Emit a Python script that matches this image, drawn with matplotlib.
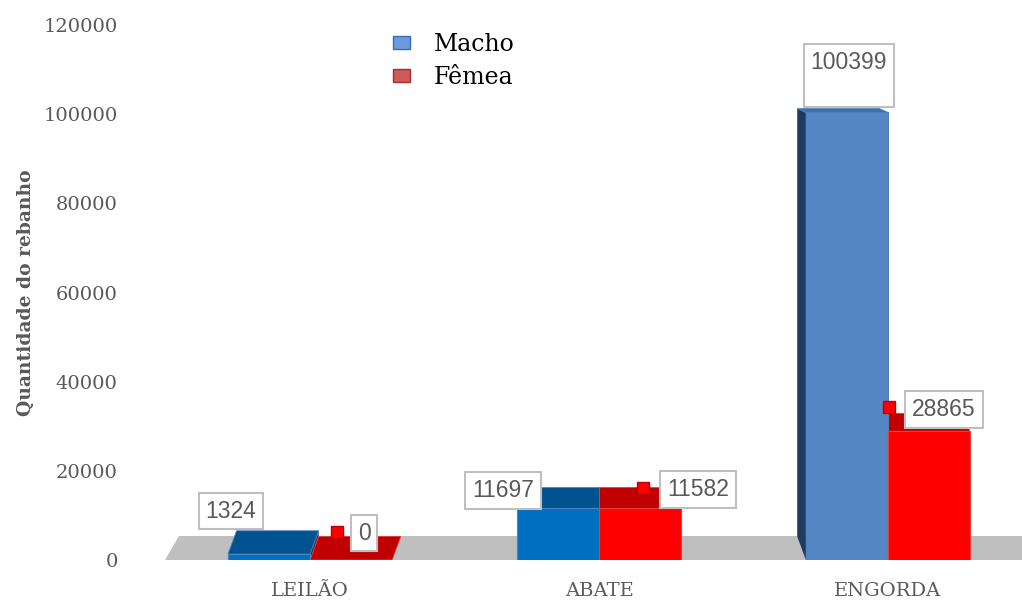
import matplotlib.pyplot as plt
from matplotlib.patches import Polygon, Patch
from matplotlib.transforms import offset_copy

# dados
categorias = ["LEILÃO", "ABATE", "ENGORDA"]
macho = [1324, 11697, 100399]
femea = [0, 11582, 28865]
yticks = [0, 20000, 40000, 60000, 80000, 100000, 120000]

# estilo / posicoes
largura = 0.284
profundidade = 5300
inclinacao = 0.03
macho_frente = ["#0070C0", "#0070C0", "#5587C5"]
macho_topo = ["#00538F", "#00538F", "#3F6FAE"]
macho_lado = "#1F3960"
femea_frente = "#FF0000"
femea_topo = "#C00000"
cinza = "#595959"
# deslocamento (px) dos rotulos em relacao ao topo da barra
macho_lbl = [(-38, 43), (-55, 17), (2, 37)]
femea_lbl = [(13, 27), (58, 19), (15, 22)]
femea_mark = [(-14, 28), (3, 20), (-40, 24)]

fig = plt.figure(figsize=(10.22, 6.01), dpi=100)
ax = fig.add_axes([165 / 1022, 41 / 601, 857 / 1022, 535 / 601])
ax.set_xlim(-0.502, 2.464)
ax.set_ylim(0, 120000)
ymax = ax.get_ylim()[1]

# piso cinza
x0, x1 = ax.get_xlim()
ax.add_patch(Polygon([(x0, 0), (x1, 0), (x1, profundidade), (x0 + 0.05, profundidade)],
                     closed=True, facecolor="#BFBFBF", edgecolor="none", zorder=1))


def barra(xa, xb, v, dx, frente, topo, lado, borda):
    # profundidade aparente diminui com a altura (perspectiva)
    d = profundidade * (1 - v / ymax)
    if dx < 0:
        pts = [(xa, 0), (xa, v), (xa + dx, v + d), (xa + dx, profundidade)]
        ax.add_patch(Polygon(pts, facecolor=lado, edgecolor="none", zorder=2))
    elif dx > 0:
        pts = [(xb, 0), (xb, v), (xb + dx, v + d), (xb + dx, profundidade)]
        ax.add_patch(Polygon(pts, facecolor=lado, edgecolor="none", zorder=2))
    pts = [(xa, v), (xb, v), (xb + dx, v + d), (xa + dx, v + d)]
    ax.add_patch(Polygon(pts, facecolor=topo, edgecolor=borda, linewidth=0.6, zorder=3))
    ax.add_patch(Polygon([(xa, 0), (xb, 0), (xb, v), (xa, v)],
                         facecolor=frente, edgecolor=borda, linewidth=0.8, zorder=4))


for i in range(len(categorias)):
    dx = (1 - i) * inclinacao
    barra(i - largura, i, macho[i], dx, macho_frente[i], macho_topo[i], macho_lado, "#4F81BD")
    barra(i, i + largura, femea[i], dx, femea_frente, femea_topo, "#900000", "#E04040")

caixa = dict(boxstyle="square,pad=0.3", facecolor="white", edgecolor="#BFBFBF", linewidth=1.5)
for i in range(len(categorias)):
    txt = str(macho[i]) + ("\n" if macho[i] > 50000 else "")
    ax.annotate(txt, xy=(i - largura / 2, macho[i]), xytext=macho_lbl[i],
                textcoords="offset pixels", ha="center", va="center",
                fontsize=16.5, family="Liberation Sans", color=cinza, bbox=caixa, zorder=6)
    ax.annotate(str(femea[i]), xy=(i + largura / 2, femea[i]), xytext=femea_lbl[i],
                textcoords="offset pixels", ha="center", va="center",
                fontsize=16.5, family="Liberation Sans", color=cinza, bbox=caixa, zorder=6)
    tr = offset_copy(ax.transData, fig=fig, x=femea_mark[i][0], y=femea_mark[i][1], units="dots")
    ax.plot([i + largura / 2], [femea[i]], marker="s", markersize=8.5, color="#FF0000",
            markeredgecolor="#C00000", markeredgewidth=1, transform=tr, zorder=7, clip_on=False)

# eixos
for s in ax.spines.values():
    s.set_visible(False)
ax.set_yticks(yticks)
ax.set_yticklabels([str(t) for t in yticks], family="DejaVu Serif", fontsize=14, color=cinza)
ax.set_xticks(range(len(categorias)))
ax.set_xticklabels(categorias, family="DejaVu Serif", fontsize=14, color=cinza)
ax.tick_params(axis="y", length=0, pad=34)
ax.tick_params(axis="x", length=0, pad=16)
ax.set_ylabel("Quantidade do rebanho", family="DejaVu Serif", fontweight="bold",
              fontsize=13.5, color=cinza)
ax.yaxis.set_label_coords(-0.152, 0.5)

# legenda
handles = [Patch(facecolor="#6A9AE0", edgecolor="#3A6AB0", label="Macho"),
           Patch(facecolor="#D05A5A", edgecolor="#A03030", label="Fêmea")]
fig.legend(handles=handles, loc="upper left", bbox_to_anchor=(372 / 1022, 1 - 12 / 601),
           frameon=False, prop={"family": "DejaVu Serif", "size": 17},
           handlelength=0.7, handleheight=0.45, handletextpad=1.0, labelspacing=0.4)

fig.savefig("out.png", dpi=100)
